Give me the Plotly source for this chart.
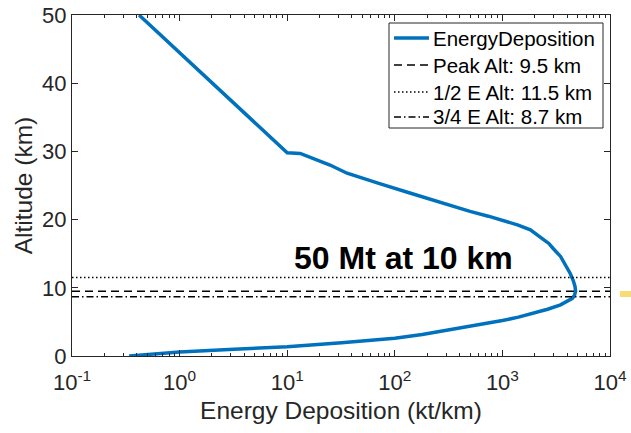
import plotly.graph_objects as go

# Energy deposition profile (altitude in km, energy in kt/km)
altitude_km = [0.0, 0.3, 0.6, 1.0, 1.37, 1.95, 2.6, 3.15, 3.8, 4.5, 5.2, 5.7, 6.26, 6.85,
               7.5, 7.95, 8.46, 8.9, 9.5, 10.2, 11.0, 12.1, 13.3, 14.6, 15.8, 16.5,
               17.0, 17.6, 18.1, 18.5, 19.2, 19.9, 20.5, 21.2, 22.5, 23.9, 25.3, 26.8,
               28.0, 29.7, 29.8, 40.0, 50.0]
energy_kt_per_km = [0.34, 0.56, 1.0, 3.2, 10, 32, 100, 180, 320, 560, 1000, 1410, 1950,
                    2630, 3470, 3980, 4470, 4680, 4790, 4730, 4570, 4270, 3890, 3470,
                    2950, 2700, 2450, 2150, 1950, 1820, 1400, 1020, 740, 500, 263, 138,
                    71, 36, 25, 13.2, 10, 2.02, 0.42]

# Reference altitudes
peak_alt = 9.5
half_e_alt = 11.5
three_quarter_e_alt = 8.7

x_range = [0.1, 1e4]
x_tick_vals = [0.1, 1, 10, 100, 1000, 10000]
x_tick_text = ["10<sup>-1</sup>", "10<sup>0</sup>", "10<sup>1</sup>",
               "10<sup>2</sup>", "10<sup>3</sup>", "10<sup>4</sup>"]
y_tick_vals = [0, 10, 20, 30, 40, 50]

minor_vals = [m * 10 ** e for e in range(-1, 4) for m in range(2, 10)]

FONT = "Arial, Liberation Sans, sans-serif"
AX = "#262626"
BLUE = "#0072BD"

# plot area in pixels (for the hand-built legend box)
W, H = 631, 433
ML, MR, MT, MB = 72, 21, 15, 77
PW, PH = W - ML - MR, H - MT - MB


def px(x):
    return (x - ML) / PW


def py(y):
    return (H - MB - y) / PH


DASH = "8px,5px"
DOT = "1.5px,2.5px"
DASHDOT = "7px,3px,1.5px,3px"

series = [
    ("EnergyDeposition", dict(color=BLUE, width=3.5)),
    (f"Peak Alt: {peak_alt} km", dict(color="black", width=1.5, dash=DASH)),
    (f"1/2 E Alt: {half_e_alt} km", dict(color="black", width=1.5, dash=DOT)),
    (f"3/4 E Alt: {three_quarter_e_alt} km", dict(color="black", width=1.5, dash=DASHDOT)),
]

fig = go.Figure()
fig.add_trace(go.Scatter(x=energy_kt_per_km, y=altitude_km, mode="lines",
                         name=series[0][0], line=series[0][1]))
for (name, style), alt in zip(series[1:], [peak_alt, half_e_alt, three_quarter_e_alt]):
    fig.add_trace(go.Scatter(x=x_range, y=[alt] * 2, mode="lines", name=name, line=style))

fig.add_annotation(x=2.081, y=14.4, xref="x", yref="y", text="50 Mt at 10 km",
                   showarrow=False, xanchor="center", yanchor="middle",
                   font=dict(family=FONT, size=32, color="black", weight="bold"))

# legend box
fig.add_shape(type="rect", xref="paper", yref="paper", x0=px(389), x1=px(603),
              y0=py(128), y1=py(23), line=dict(color=AX, width=1), fillcolor="white",
              layer="above")
row_y = [38, 65, 92, 117]
for (name, style), ry in zip(series, row_y):
    fig.add_shape(type="line", xref="paper", yref="paper", x0=px(394), x1=px(429),
                  y0=py(ry), y1=py(ry), line=style, layer="above")
    fig.add_annotation(x=px(431), y=py(ry), xref="paper", yref="paper", text=name,
                       showarrow=False, xanchor="left", yanchor="middle",
                       font=dict(family=FONT, size=20.5, color="black"))

# small yellow stroke at the right edge
fig.add_shape(type="rect", xref="paper", yref="paper", x0=px(620), x1=px(632),
              y0=py(297), y1=py(291), line=dict(width=0), fillcolor="#f6d65e",
              opacity=0.85)

fig.update_layout(
    width=W, height=H,
    margin=dict(l=ML, r=MR, t=MT, b=MB),
    paper_bgcolor="white", plot_bgcolor="white",
    font=dict(family=FONT, color=AX),
    showlegend=False,
)
fig.update_xaxes(type="log", range=[-1, 4], showline=True, linecolor=AX, linewidth=1,
                 mirror="allticks", ticks="inside", ticklen=6, tickcolor=AX,
                 tickmode="array", tickvals=x_tick_vals, ticktext=x_tick_text,
                 tickfont=dict(size=22, color=AX), showgrid=False, zeroline=False,
                 automargin=False, ticklabelstandoff=7,
                 minor=dict(tickmode="array", tickvals=minor_vals, ticks="inside",
                            ticklen=3, tickcolor=AX, showgrid=False),
                 title=dict(text="Energy Deposition (kt/km)", font=dict(size=24.5, color=AX),
                            standoff=7))
fig.update_yaxes(range=[0, 50], showline=True, linecolor=AX, linewidth=1,
                 mirror="allticks", ticks="inside", ticklen=6, tickcolor=AX,
                 tickmode="array", tickvals=y_tick_vals, automargin=False,
                 tickfont=dict(size=22, color=AX), showgrid=False, zeroline=False,
                 title=dict(text="Altitude (km)", font=dict(size=24.5, color=AX),
                            standoff=2))

fig.write_html("out.html")
